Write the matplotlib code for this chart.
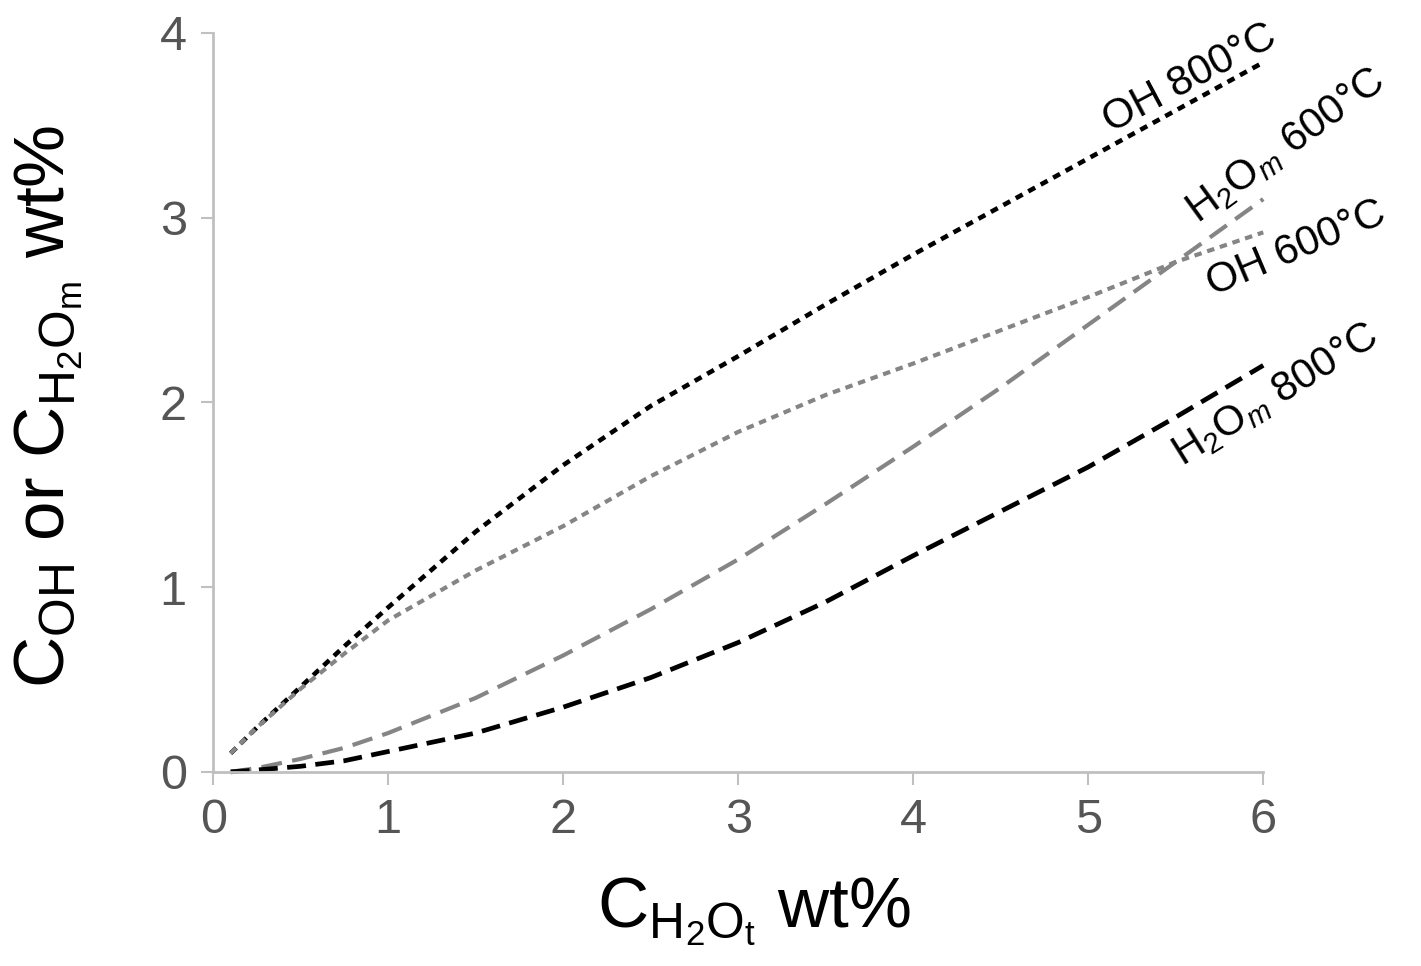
import matplotlib
matplotlib.use("Agg")
import matplotlib.pyplot as plt

# -------------------------------
# DATA
# -------------------------------
x_tot = [0.1, 0.25, 0.5, 0.75, 1.0, 1.5, 2.0, 2.5, 3.0, 3.5, 4.0, 4.5, 5.0, 5.5, 6.0]

oh_800 = [0.10, 0.24, 0.46, 0.68, 0.89, 1.30, 1.66, 1.98, 2.25, 2.53, 2.80, 3.06, 3.32, 3.58, 3.84]
oh_600 = [0.10, 0.24, 0.45, 0.64, 0.82, 1.09, 1.33, 1.60, 1.84, 2.04, 2.21, 2.39, 2.57, 2.76, 2.92]
h2om_600 = [0.00, 0.02, 0.07, 0.13, 0.21, 0.40, 0.63, 0.88, 1.15, 1.45, 1.76, 2.08, 2.42, 2.76, 3.10]
h2om_800 = [0.00, 0.01, 0.03, 0.06, 0.11, 0.21, 0.35, 0.51, 0.70, 0.92, 1.17, 1.41, 1.65, 1.92, 2.20]

x_ticks = [0, 1, 2, 3, 4, 5, 6]
y_ticks = [0, 1, 2, 3, 4]

# -------------------------------
# STYLE
# -------------------------------
plt.rcParams['font.family'] = ['Liberation Sans', 'DejaVu Sans']
plt.rcParams['mathtext.fontset'] = 'custom'
plt.rcParams['mathtext.rm'] = 'Liberation Sans'
plt.rcParams['mathtext.it'] = 'Liberation Sans:italic'

GRAY_LINE = '#858585'
AXIS_GRAY = '#c0c0c0'
TICK_TEXT = '#555555'

fig = plt.figure(figsize=(14.21, 9.66), dpi=100)
ax = fig.add_axes([0.150, 0.201, 0.739, 0.765])

ax.plot(x_tot, oh_800, color='black', lw=3.3, dashes=(1.7, 1.4), clip_on=False)
ax.plot(x_tot, oh_600, color=GRAY_LINE, lw=3.0, dashes=(1.8, 1.4), clip_on=False)
ax.plot(x_tot, h2om_600, color=GRAY_LINE, lw=3.0, dashes=(5.0, 2.5), clip_on=False)
ax.plot(x_tot, h2om_800, color='black', lw=3.4, dashes=(4.0, 2.0), clip_on=False)

# -------------------------------
# AXES
# -------------------------------
ax.set_xlim(0, 6)
ax.set_ylim(0, 4)
ax.set_xticks(x_ticks)
ax.set_yticks(y_ticks)
ax.tick_params(axis='both', direction='out', length=9, width=1.5, color=AXIS_GRAY,
               labelsize=35, labelcolor=TICK_TEXT)
ax.tick_params(axis='y', pad=10)
ax.tick_params(axis='x', pad=10)

for side in ['top', 'right']:
    ax.spines[side].set_visible(False)
for side in ['left', 'bottom']:
    ax.spines[side].set_color(AXIS_GRAY)
    ax.spines[side].set_linewidth(2)

ax.set_xlabel(r'$\mathregular{C_{H_2O_t}}$ wt%', fontsize=51)
ax.set_ylabel(r'$\mathregular{C_{OH}}$ or $\mathregular{C_{H_2O_m}}$ wt%', fontsize=51)
ax.xaxis.set_label_coords(0.515, -0.14)
ax.yaxis.set_label_coords(-0.122, 0.495)

# -------------------------------
# CURVE LABELS
# -------------------------------
ax.text(5.58, 3.75, 'OH 800°C', fontsize=30, rotation=28, ha='center', va='center',
        rotation_mode='anchor')
ax.text(6.13, 3.39, r'H$_2$O$_m$ 600°C', fontsize=30, rotation=36, ha='center', va='center',
        rotation_mode='anchor', clip_on=False)
ax.text(6.19, 2.83, 'OH 600°C', fontsize=30, rotation=23, ha='center', va='center',
        rotation_mode='anchor', clip_on=False)
ax.text(6.07, 2.04, r'H$_2$O$_m$ 800°C', fontsize=30, rotation=32, ha='center', va='center',
        rotation_mode='anchor', clip_on=False)

fig.savefig('out.png', dpi=100, facecolor='white')
